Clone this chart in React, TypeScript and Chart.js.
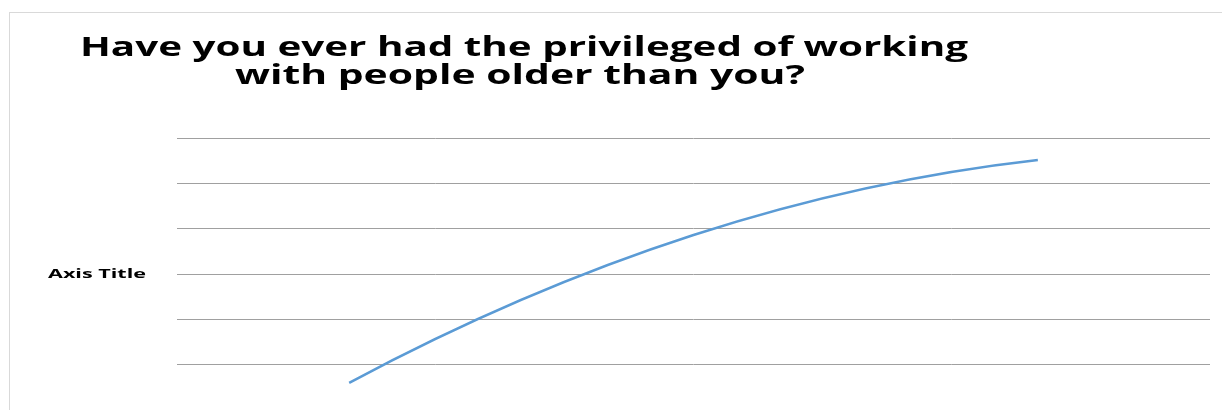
import React, { useEffect, useRef } from "react";
import { Chart, registerables } from "chart.js";

Chart.register(...registerables);

const categories = ["1", "2", "3"];
const seriesValues = [0.6, 3.86, 5.515];
const yTicks = [0, 1, 2, 3, 4, 5, 6];
const titleLines = ["Have you ever had the privileged of working", "with people older than you?"];
const axisTitle = "Axis Title";

const drawStretched = (ctx: CanvasRenderingContext2D, text: string, cx: number, baseline: number, width: number, font: string) => {
  ctx.save();
  ctx.font = font;
  ctx.fillStyle = "#000000";
  ctx.textBaseline = "alphabetic";
  ctx.textAlign = "left";
  const w = ctx.measureText(text).width;
  const sx = width / w;
  ctx.translate(cx - width / 2, baseline);
  ctx.scale(sx, 1);
  ctx.fillText(text, 0, 0);
  ctx.restore();
};

const textPlugin = {
  id: "textPlugin",
  afterDraw(chart: any) {
    const ctx = chart.ctx as CanvasRenderingContext2D;
    drawStretched(ctx, titleLines[0], 524, 56, 888, "bold 26px 'Open Sans'");
    drawStretched(ctx, titleLines[1], 520, 84, 570, "bold 26px 'Open Sans'");
    drawStretched(ctx, axisTitle, 97, 278, 98, "bold 13px 'Open Sans'");
  },
};

// Excel-like smoothing: endpoint tangents mirrored so that end segments follow a parabola
const smoothEndsPlugin = {
  id: "smoothEnds",
  beforeDatasetDraw(chart: any, args: any) {
    const meta = args.meta;
    const line = meta.dataset;
    if (!line) return;
    line.updateControlPoints(chart.chartArea, "x");
    const pts = meta.data;
    const n = pts.length;
    if (n < 3) return;
    const slopes: number[] = [];
    for (let i = 1; i < n - 1; i++) {
      slopes[i] = (pts[i + 1].y - pts[i - 1].y) / (pts[i + 1].x - pts[i - 1].x);
    }
    const c0 = (pts[1].y - pts[0].y) / (pts[1].x - pts[0].x);
    slopes[0] = 2 * c0 - slopes[1];
    const cl = (pts[n - 1].y - pts[n - 2].y) / (pts[n - 1].x - pts[n - 2].x);
    slopes[n - 1] = 2 * cl - slopes[n - 2];
    for (let i = 0; i < n; i++) {
      const p = pts[i];
      if (i > 0) {
        const h = p.x - pts[i - 1].x;
        p.cp1x = p.x - h / 3;
        p.cp1y = p.y - (slopes[i] * h) / 3;
      }
      if (i < n - 1) {
        const h = pts[i + 1].x - p.x;
        p.cp2x = p.x + h / 3;
        p.cp2y = p.y + (slopes[i] * h) / 3;
      }
    }
    line._path = undefined;
  },
};

export default function App() {
  const ref = useRef<HTMLCanvasElement | null>(null);
  useEffect(() => {
    if (!ref.current) return;
    const chart = new Chart(ref.current, {
      type: "line",
      data: {
        labels: categories,
        datasets: [
          {
            data: seriesValues,
            borderColor: "#5b9bd5",
            borderWidth: 2.5,
            pointRadius: 0,
            tension: 0.4,
            fill: false,
          },
        ],
      },
      options: {
        animation: false,
        responsive: false,
        maintainAspectRatio: false,
        layout: { padding: { left: 177, right: 12, top: 138, bottom: 20 } },
        plugins: { legend: { display: false }, tooltip: { enabled: false }, title: { display: false } },
        scales: {
          x: { display: false, offset: true },
          y: {
            min: yTicks[0],
            max: yTicks[yTicks.length - 1],
            afterBuildTicks: (axis: any) => {
              axis.ticks = yTicks.map((v) => ({ value: v }));
            },
            ticks: { display: false },
            border: { display: false },
            grid: { color: "#a0a0a0", lineWidth: 1, drawTicks: false },
          },
        },
      },
      plugins: [textPlugin, smoothEndsPlugin],
    });
    return () => chart.destroy();
  }, []);
  return (
    <div style={{ position: "fixed", left: 0, top: 0, width: 1222, height: 410, overflow: "hidden", background: "#fff" }}>
      <div
        style={{
          position: "absolute",
          left: 9,
          top: 12,
          width: 1400,
          height: 600,
          borderLeft: "1px solid #d9d9d9",
          borderTop: "1px solid #d9d9d9",
        }}
      />
      <canvas ref={ref} width={1222} height={430} style={{ position: "absolute", left: 0, top: 0, width: 1222, height: 430 }} />
    </div>
  );
}
